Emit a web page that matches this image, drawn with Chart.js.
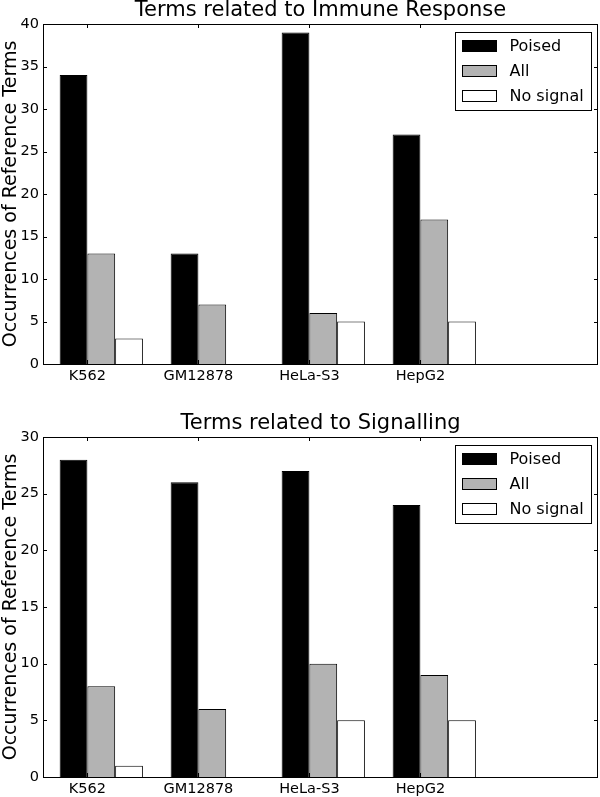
<!DOCTYPE html>
<html>
<head>
<meta charset="utf-8">
<script src="https://cdn.jsdelivr.net/npm/chart.js@4.4.0/dist/chart.umd.min.js"></script>
<style>
  html, body { margin: 0; padding: 0; background: #fff; }
  #wrap { position: relative; width: 600px; height: 797px; }
  canvas { position: absolute; left: 0; }
</style>
</head>
<body>
<div id="wrap">
  <canvas id="immune" width="600" height="398" style="top:0"></canvas>
  <canvas id="signal" width="600" height="399" style="top:398px"></canvas>
</div>
<script>
const cellLines = ['K562', 'GM12878', 'HeLa-S3', 'HepG2'];
const seriesNames = ['Poised', 'All', 'No signal'];
const seriesColors = ['#000000', '#b3b3b3', '#ffffff'];

const immunePoised = [34, 13, 39, 27];
const immuneAll = [13, 7, 6, 17];
const immuneNoSignal = [3, 0, 5, 5];

const signalPoised = [28, 26, 27, 24];
const signalAll = [8, 6, 10, 9];
const signalNoSignal = [1, 0, 5, 5];

const immuneTicks = [0, 5, 10, 15, 20, 25, 30, 35, 40];
const signalTicks = [0, 5, 10, 15, 20, 25, 30];

const FONT = "'DejaVu Sans', sans-serif";
// matplotlib style layout: bars start at i + 0.15, each 0.25 wide, tick under the 2nd bar's left edge
const BAR_START = 0.15;
const BAR_W = 0.25;
const X_MAX = 5;

const mplPlugin = {
  id: 'mpl',
  afterDraw(chart, args, opts) {
    const { ctx, chartArea: a } = chart;
    const xs = chart.scales.x;
    const ys = chart.scales.y;
    ctx.save();
    ctx.strokeStyle = '#000';
    ctx.lineWidth = 1;
    // frame
    ctx.strokeRect(Math.round(a.left) + 0.5, Math.round(a.top) + 0.5,
      Math.round(a.right - a.left) - 1, Math.round(a.bottom - a.top));
    // inward ticks
    ctx.beginPath();
    xs.ticks.forEach((t) => {
      const px = Math.round(xs.getPixelForValue(t.value)) + 0.5;
      ctx.moveTo(px, a.bottom); ctx.lineTo(px, a.bottom - 4);
      ctx.moveTo(px, a.top); ctx.lineTo(px, a.top + 4);
    });
    ys.ticks.forEach((t) => {
      const py = Math.round(ys.getPixelForValue(t.value)) + 0.5;
      ctx.moveTo(a.left, py); ctx.lineTo(a.left + 4, py);
      ctx.moveTo(a.right, py); ctx.lineTo(a.right - 4, py);
    });
    ctx.stroke();

    // title
    ctx.fillStyle = '#000';
    ctx.font = `21px ${FONT}`;
    ctx.textAlign = 'center';
    ctx.textBaseline = 'alphabetic';
    ctx.fillText(opts.text, (a.left + a.right) / 2, a.top - 8);

    // legend
    const bx = Math.round(a.right - 143) + 0.5;
    const by = Math.round(a.top + 8) + 0.5;
    ctx.fillStyle = '#fff';
    ctx.fillRect(bx, by, 136, 78);
    ctx.strokeRect(bx, by, 136, 78);
    ctx.font = `16px ${FONT}`;
    ctx.textAlign = 'left';
    ctx.textBaseline = 'middle';
    chart.data.datasets.forEach((ds, k) => {
      const ry = by + 8 + k * 25;
      ctx.fillStyle = ds.backgroundColor;
      ctx.fillRect(bx + 7, ry, 34, 11);
      ctx.strokeStyle = '#000';
      ctx.strokeRect(bx + 7, ry, 34, 11);
      ctx.fillStyle = '#000';
      ctx.fillText(ds.label, bx + 54, ry + 6);
    });
    ctx.restore();
  },
};

function renderBarChart(canvasId, title, yTicks, series, topPad, xAxisHeight) {
  const canvas = document.getElementById(canvasId);
  if (!canvas || typeof Chart === 'undefined') return;

  const groupCenter = BAR_START + (BAR_W * seriesNames.length) / 2;

  new Chart(canvas, {
    type: 'bar',
    data: {
      datasets: series.map((values, k) => ({
        label: seriesNames[k],
        data: values.map((v, i) => ({ x: i + groupCenter, y: v })),
        backgroundColor: seriesColors[k],
        borderColor: '#000',
        borderWidth: 1,
        categoryPercentage: BAR_W * seriesNames.length,
        barPercentage: 1,
      })),
    },
    plugins: [mplPlugin],
    options: {
      responsive: false,
      animation: false,
      layout: { padding: { top: topPad, right: 2, left: 0, bottom: 0 } },
      plugins: {
        legend: { display: false },
        tooltip: { enabled: false },
        mpl: { text: title },
      },
      scales: {
        x: {
          type: 'linear',
          min: 0,
          max: X_MAX,
          offset: false,
          grid: { display: false, offset: false, drawTicks: false },
          border: { display: false },
          afterBuildTicks: (scale) => {
            scale.ticks = cellLines.map((_, i) => ({ value: i + BAR_START + BAR_W }));
          },
          ticks: {
            autoSkip: false,
            maxRotation: 0,
            padding: 4,
            color: '#000',
            font: { family: FONT, size: 14.5 },
            callback: (v, i) => cellLines[i],
          },
          afterFit: (scale) => { scale.height = xAxisHeight; },
        },
        y: {
          min: yTicks[0],
          max: yTicks[yTicks.length - 1],
          grid: { display: false, drawTicks: false },
          border: { display: false },
          afterBuildTicks: (scale) => {
            scale.ticks = yTicks.map((v) => ({ value: v }));
          },
          ticks: { padding: 4, color: '#000', font: { family: FONT, size: 14.5 } },
          title: {
            display: true,
            text: 'Occurrences of Reference Terms',
            color: '#000',
            font: { family: FONT, size: 19 },
            padding: { top: 0, bottom: 0 },
          },
          afterFit: (scale) => { scale.width = 43; },
        },
      },
    },
  });
}

renderBarChart('immune', 'Terms related to Immune Response', immuneTicks,
  [immunePoised, immuneAll, immuneNoSignal], 24, 34);
renderBarChart('signal', 'Terms related to Signalling', signalTicks,
  [signalPoised, signalAll, signalNoSignal], 39, 20);
</script>
</body>
</html>
